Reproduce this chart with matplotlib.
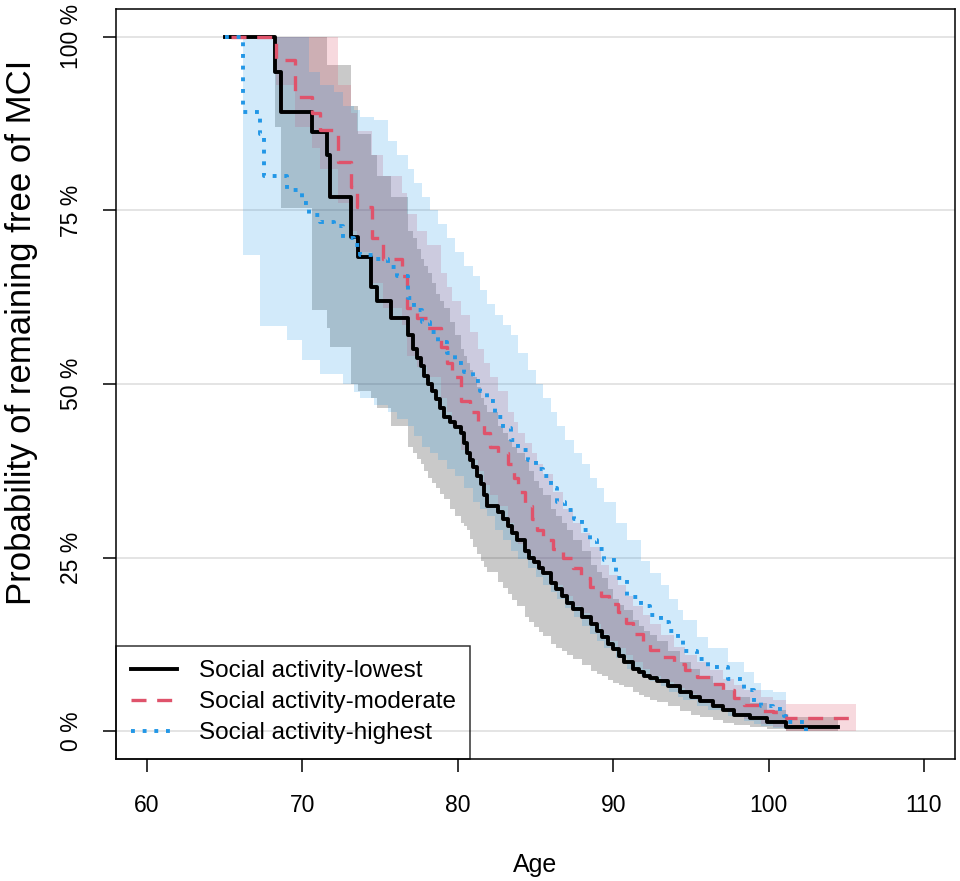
import matplotlib
matplotlib.use("Agg")
import matplotlib.pyplot as plt
from matplotlib.lines import Line2D

plt.rcParams['font.family'] = ['Liberation Sans', 'DejaVu Sans']

# Social activity-lowest (Kaplan-Meier estimate with confidence band)
age_low = [65.0, 68.25, 68.6, 70.6, 71.6, 71.8, 73.1, 73.6, 74.4, 74.8, 75.7, 76.8,
           77.1, 77.35, 77.6, 77.85, 78.1, 78.35, 78.6, 78.85, 79.1, 79.5, 79.85, 80.2,
           80.4, 80.6, 80.8, 81.0, 81.25, 81.5, 81.7, 81.9, 82.6, 82.9, 83.2, 83.5,
           83.8, 84.3, 84.6, 84.9, 85.2, 85.5, 86.0, 86.35, 86.7, 87.05, 87.4, 88.0,
           88.6, 88.95, 89.3, 89.65, 90.0, 90.35, 90.7, 91.3, 91.65, 92.0, 92.4, 92.8,
           93.5, 94.3, 95.0, 95.6, 96.4, 97.1, 97.8, 98.8, 99.9, 101.1, 104.5]
surv_low = [1.0, 0.95, 0.892, 0.863, 0.830, 0.770, 0.712, 0.683, 0.640, 0.620, 0.595, 0.570,
            0.550, 0.538, 0.526, 0.512, 0.500, 0.490, 0.478, 0.465, 0.453, 0.445, 0.438, 0.430,
            0.415, 0.400, 0.390, 0.380, 0.368, 0.356, 0.340, 0.324, 0.315, 0.305, 0.295, 0.285,
            0.276, 0.260, 0.250, 0.243, 0.235, 0.228, 0.214, 0.205, 0.195, 0.185, 0.176, 0.165,
            0.155, 0.145, 0.135, 0.126, 0.118, 0.109, 0.100, 0.089, 0.085, 0.080, 0.076, 0.072,
            0.065, 0.057, 0.050, 0.043, 0.036, 0.030, 0.024, 0.019, 0.014, 0.006, 0.006]
lcl_low = [1.0, 0.87, 0.754, 0.607, 0.580, 0.554, 0.500, 0.490, 0.480, 0.465, 0.440, 0.410,
           0.400, 0.392, 0.385, 0.375, 0.365, 0.357, 0.350, 0.342, 0.335, 0.320, 0.310, 0.300,
           0.295, 0.290, 0.277, 0.265, 0.255, 0.245, 0.237, 0.230, 0.215, 0.206, 0.198, 0.189,
           0.180, 0.165, 0.157, 0.150, 0.143, 0.137, 0.125, 0.120, 0.115, 0.110, 0.104, 0.095,
           0.087, 0.083, 0.079, 0.074, 0.070, 0.066, 0.063, 0.056, 0.052, 0.049, 0.045, 0.042,
           0.036, 0.029, 0.024, 0.020, 0.016, 0.012, 0.009, 0.006, 0.003, 0.0, 0.0]
ucl_low = [1.0, 1.0, 1.0, 1.0, 0.96, 0.96, 0.90, 0.86, 0.83, 0.80, 0.77, 0.72,
           0.71, 0.695, 0.68, 0.67, 0.66, 0.645, 0.63, 0.62, 0.61, 0.59, 0.57, 0.55,
           0.54, 0.53, 0.52, 0.51, 0.495, 0.48, 0.47, 0.46, 0.44, 0.43, 0.42, 0.41,
           0.40, 0.39, 0.375, 0.36, 0.35, 0.34, 0.32, 0.31, 0.30, 0.29, 0.275, 0.26,
           0.24, 0.23, 0.22, 0.205, 0.19, 0.182, 0.175, 0.16, 0.152, 0.145, 0.138, 0.13,
           0.115, 0.10, 0.09, 0.08, 0.07, 0.06, 0.05, 0.04, 0.03, 0.02, 0.02]

# Social activity-moderate
age_mod = [65.4, 68.3, 69.5, 70.6, 71.1, 72.3, 73.1, 73.5, 74.5, 75.2, 76.4, 76.75,
           77.4, 78.0, 78.9, 79.3, 79.65, 80.2, 80.8, 81.3, 81.7, 82.1, 82.6, 83.2,
           83.6, 83.9, 84.3, 84.8, 85.1, 85.5, 86.1, 86.8, 87.4, 87.9, 88.5, 89.2,
           89.7, 90.3, 90.8, 91.3, 91.9, 92.4, 93.1, 93.9, 94.6, 95.4, 96.2, 97.1,
           97.8, 98.4, 99.5, 100.3, 101.1, 105.6]
surv_mod = [1.0, 0.967, 0.914, 0.89, 0.866, 0.82, 0.784, 0.755, 0.71, 0.68, 0.655, 0.61,
            0.595, 0.58, 0.553, 0.53, 0.51, 0.475, 0.46, 0.447, 0.43, 0.41, 0.40, 0.385,
            0.365, 0.345, 0.325, 0.305, 0.29, 0.276, 0.262, 0.25, 0.235, 0.22, 0.207, 0.195,
            0.183, 0.172, 0.156, 0.14, 0.128, 0.117, 0.107, 0.097, 0.088, 0.078, 0.068, 0.06,
            0.048, 0.038, 0.029, 0.027, 0.019, 0.019]
lcl_mod = [1.0, 0.93, 0.87, 0.84, 0.81, 0.76, 0.72, 0.69, 0.645, 0.61, 0.585, 0.54,
           0.525, 0.51, 0.48, 0.46, 0.44, 0.405, 0.39, 0.375, 0.355, 0.34, 0.325, 0.30,
           0.285, 0.27, 0.255, 0.245, 0.235, 0.225, 0.21, 0.195, 0.18, 0.17, 0.155, 0.14,
           0.13, 0.12, 0.11, 0.10, 0.09, 0.08, 0.071, 0.062, 0.053, 0.045, 0.037, 0.03,
           0.024, 0.018, 0.01, 0.006, 0.0, 0.0]
ucl_mod = [1.0, 1.0, 1.0, 1.0, 1.0, 0.93, 0.89, 0.865, 0.83, 0.80, 0.775, 0.745,
           0.72, 0.70, 0.66, 0.64, 0.62, 0.60, 0.575, 0.55, 0.53, 0.51, 0.49, 0.46,
           0.445, 0.43, 0.415, 0.40, 0.385, 0.37, 0.345, 0.32, 0.30, 0.285, 0.265, 0.24,
           0.225, 0.21, 0.195, 0.18, 0.167, 0.155, 0.138, 0.122, 0.11, 0.10, 0.088, 0.075,
           0.067, 0.06, 0.05, 0.045, 0.039, 0.039]

# Social activity-highest
age_high = [65.0, 66.2, 67.3, 67.5, 69.0, 70.0, 70.4, 71.1, 72.0, 72.6, 73.3, 73.7,
            74.6, 75.5, 76.1, 76.8, 77.2, 77.7, 78.2, 78.75, 79.3, 79.85, 80.4, 81.0,
            81.45, 81.9, 82.4, 82.9, 83.4, 83.9, 84.5, 85.0, 85.5, 86.0, 86.4, 86.9,
            87.45, 88.0, 88.5, 88.95, 89.4, 90.2, 90.9, 91.8, 92.4, 93.05, 93.6, 94.15,
            94.5, 95.4, 96.1, 97.4, 98.4, 99.05, 99.5, 100.3, 101.0, 101.1, 102.4]
surv_high = [1.0, 0.892, 0.86, 0.80, 0.78, 0.76, 0.744, 0.734, 0.728, 0.71, 0.70, 0.686,
             0.68, 0.668, 0.655, 0.624, 0.607, 0.59, 0.575, 0.56, 0.545, 0.53, 0.517, 0.504,
             0.49, 0.475, 0.453, 0.437, 0.42, 0.405, 0.39, 0.378, 0.367, 0.35, 0.33, 0.318,
             0.305, 0.29, 0.276, 0.262, 0.247, 0.22, 0.194, 0.18, 0.168, 0.157, 0.145, 0.132,
             0.115, 0.104, 0.092, 0.075, 0.06, 0.042, 0.036, 0.032, 0.022, 0.013, 0.0]
lcl_high = [1.0, 0.686, 0.583, 0.583, 0.564, 0.535, 0.535, 0.515, 0.515, 0.50, 0.488, 0.48,
            0.47, 0.46, 0.45, 0.44, 0.425, 0.41, 0.40, 0.39, 0.378, 0.367, 0.35, 0.33,
            0.32, 0.31, 0.29, 0.275, 0.26, 0.248, 0.235, 0.222, 0.21, 0.20, 0.19, 0.178,
            0.165, 0.152, 0.14, 0.13, 0.12, 0.105, 0.09, 0.08, 0.072, 0.065, 0.057, 0.05,
            0.045, 0.037, 0.03, 0.022, 0.015, 0.01, 0.008, 0.005, 0.003, 0.0, 0.0]
ucl_high = [1.0, 1.0, 1.0, 1.0, 1.0, 1.0, 0.95, 0.93, 0.92, 0.90, 0.895, 0.885,
            0.88, 0.85, 0.83, 0.81, 0.79, 0.77, 0.75, 0.73, 0.71, 0.69, 0.67, 0.655,
            0.635, 0.615, 0.60, 0.585, 0.57, 0.545, 0.52, 0.50, 0.48, 0.46, 0.44, 0.42,
            0.40, 0.385, 0.365, 0.35, 0.33, 0.30, 0.275, 0.245, 0.228, 0.21, 0.19, 0.175,
            0.16, 0.135, 0.12, 0.10, 0.085, 0.07, 0.06, 0.056, 0.056, 0.0, 0.0]

group_labels = ["Social activity-lowest", "Social activity-moderate", "Social activity-highest"]
y_ticks = [0, 0.25, 0.5, 0.75, 1.0]
y_tick_labels = ["0 %", "25 %", "50 %", "75 %", "100 %"]
x_ticks = [60, 70, 80, 90, 100, 110]

col_low = "black"
col_mod = "#DF536B"
col_high = "#2297E6"
ls_mod = (0, (4.5, 3.2))
ls_high = (0, (1, 2))

fig = plt.figure(figsize=(9.6, 8.81), dpi=100)
ax = fig.add_axes([116 / 960, 122 / 881, 839 / 960, 750 / 881])

for y in y_ticks:
    ax.axhline(y, color="#dcdcdc", lw=1.1, zorder=0)

ax.fill_between(age_low, lcl_low, ucl_low, step="post", color=col_low, alpha=0.21, lw=0, zorder=1)
ax.fill_between(age_mod, lcl_mod, ucl_mod, step="post", color=col_mod, alpha=0.22, lw=0, zorder=1)
ax.fill_between(age_high, lcl_high, ucl_high, step="post", color=col_high, alpha=0.2, lw=0, zorder=1)

ax.step(age_low, surv_low, where="post", color=col_low, lw=2.8, zorder=3)
ax.step(age_mod, surv_mod, where="post", color=col_mod, lw=2.4, ls=ls_mod, zorder=4)
ax.step(age_high, surv_high, where="post", color=col_high, lw=2.8, ls=ls_high, zorder=5)

ax.set_xlim(58, 112)
ax.set_ylim(-0.04, 1.04)
ax.set_xticks(x_ticks)
ax.set_xticklabels([str(v) for v in x_ticks], fontsize=16.5)
ax.set_yticks(y_ticks)
ax.set_yticklabels(y_tick_labels, fontsize=16.5, rotation=90, va="center")
ax.tick_params(axis="x", length=9.5, width=1.1, pad=16)
ax.tick_params(axis="y", length=9.5, width=1.1, pad=14)
for s in ax.spines.values():
    s.set_linewidth(1.1)

fig.text(535 / 960, 9 / 881, "Age", fontsize=18, ha="center", va="baseline")
fig.text(22 / 960, (881 - 332) / 881, "Probability of remaining free of MCI",
         fontsize=25, rotation=90, ha="center", va="center")

handles = [Line2D([], [], color=col_low, lw=2.8),
           Line2D([], [], color=col_mod, lw=2.4, ls=ls_mod),
           Line2D([], [], color=col_high, lw=2.8, ls=ls_high)]
leg = ax.legend(handles, group_labels, loc="lower left", bbox_to_anchor=(0, 0),
                borderaxespad=0, fancybox=False, edgecolor="black", facecolor="none",
                fontsize=17.5, handlelength=1.9, handletextpad=0.9, labelspacing=0.37,
                borderpad=0.6)
leg.get_frame().set_linewidth(1.1)

fig.savefig("out.png", dpi=100)
